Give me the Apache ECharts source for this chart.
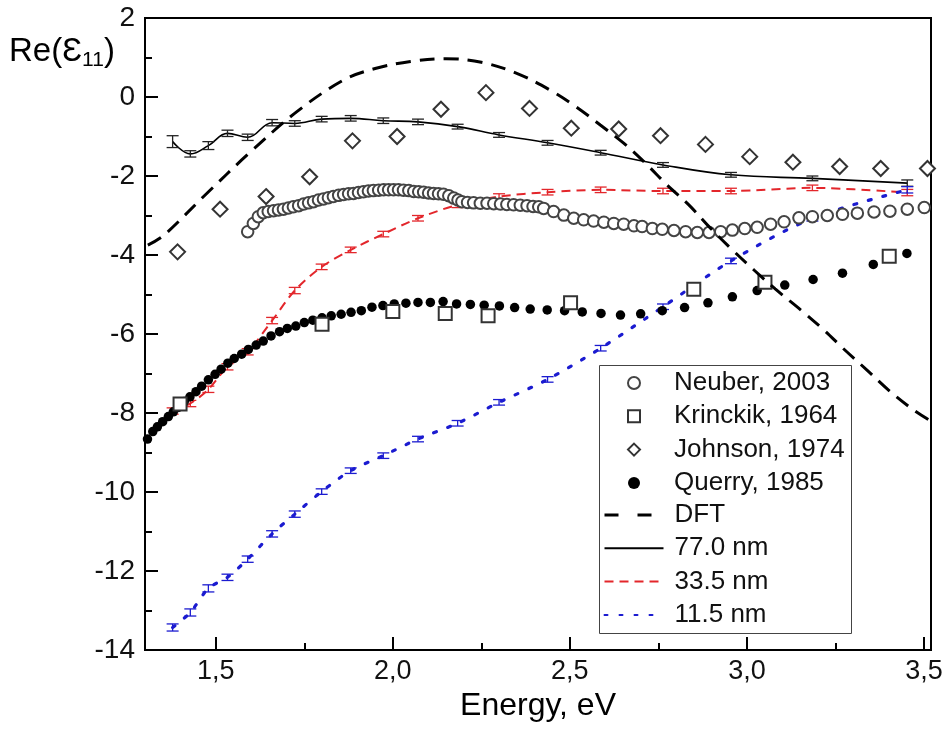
<!DOCTYPE html>
<html>
<head>
<meta charset="utf-8">
<script src="https://cdn.jsdelivr.net/npm/echarts@6/dist/echarts.min.js"></script>
<style>html,body{margin:0;padding:0;background:#fff;}#c{width:951px;height:749px;}</style>
</head>
<body>
<div id="c"></div>
<script>
const FONT = 'Arial, "Liberation Sans", sans-serif';

// Experimental data
const neuber = [[1.590,-3.41],[1.606,-3.20],[1.620,-3.03],[1.634,-2.93],[1.648,-2.90],[1.663,-2.88],[1.677,-2.86],[1.691,-2.84],[1.705,-2.81],[1.719,-2.78],[1.734,-2.75],[1.748,-2.71],[1.762,-2.68],[1.776,-2.65],[1.790,-2.61],[1.804,-2.58],[1.818,-2.55],[1.832,-2.52],[1.847,-2.49],[1.861,-2.47],[1.875,-2.45],[1.889,-2.44],[1.903,-2.42],[1.917,-2.40],[1.931,-2.38],[1.945,-2.37],[1.960,-2.36],[1.974,-2.35],[1.988,-2.35],[2.002,-2.35],[2.016,-2.35],[2.030,-2.36],[2.045,-2.37],[2.059,-2.39],[2.073,-2.40],[2.087,-2.41],[2.101,-2.43],[2.115,-2.44],[2.129,-2.45],[2.143,-2.46],[2.158,-2.50],[2.172,-2.56],[2.184,-2.61],[2.195,-2.65],[2.211,-2.67],[2.228,-2.68],[2.247,-2.69],[2.266,-2.69],[2.285,-2.70],[2.304,-2.71],[2.322,-2.72],[2.341,-2.73],[2.360,-2.74],[2.379,-2.75],[2.396,-2.77],[2.412,-2.78],[2.426,-2.82],[2.454,-2.90],[2.483,-2.99],[2.511,-3.07],[2.539,-3.11],[2.567,-3.14],[2.596,-3.17],[2.624,-3.20],[2.652,-3.22],[2.681,-3.26],[2.704,-3.28],[2.733,-3.33],[2.761,-3.35],[2.794,-3.38],[2.827,-3.41],[2.860,-3.43],[2.893,-3.43],[2.926,-3.41],[2.959,-3.37],[2.994,-3.33],[3.029,-3.30],[3.067,-3.22],[3.105,-3.16],[3.147,-3.06],[3.185,-3.03],[3.227,-3.00],[3.270,-2.97],[3.312,-2.94],[3.359,-2.91],[3.404,-2.89],[3.453,-2.84],[3.501,-2.80]];
const krinckik = [[1.399,-7.77],[1.800,-5.75],[2.000,-5.43],[2.148,-5.48],[2.269,-5.54],[2.502,-5.21],[2.850,-4.87],[3.051,-4.69],[3.402,-4.03]];
const johnson = [[1.392,-3.92],[1.512,-2.84],[1.642,-2.52],[1.765,-2.02],[1.886,-1.11],[2.012,-1.00],[2.136,-0.31],[2.263,0.11],[2.386,-0.29],[2.504,-0.79],[2.638,-0.81],[2.756,-0.98],[2.883,-1.20],[3.008,-1.51],[3.130,-1.65],[3.262,-1.76],[3.378,-1.81],[3.510,-1.81]];
const querry = [[1.307,-8.66],[1.322,-8.47],[1.335,-8.35],[1.350,-8.22],[1.366,-8.09],[1.380,-7.97],[1.394,-7.86],[1.411,-7.71],[1.427,-7.59],[1.444,-7.46],[1.460,-7.32],[1.479,-7.16],[1.498,-7.02],[1.515,-6.89],[1.534,-6.74],[1.552,-6.62],[1.573,-6.51],[1.592,-6.39],[1.614,-6.28],[1.634,-6.18],[1.656,-6.05],[1.680,-5.94],[1.702,-5.86],[1.726,-5.80],[1.750,-5.71],[1.774,-5.65],[1.800,-5.59],[1.826,-5.54],[1.854,-5.50],[1.882,-5.45],[1.911,-5.41],[1.941,-5.32],[1.972,-5.28],[2.004,-5.24],[2.037,-5.22],[2.071,-5.20],[2.106,-5.20],[2.142,-5.18],[2.180,-5.24],[2.219,-5.25],[2.258,-5.27],[2.301,-5.29],[2.344,-5.33],[2.388,-5.37],[2.436,-5.39],[2.485,-5.41],[2.535,-5.44],[2.588,-5.48],[2.643,-5.52],[2.700,-5.49],[2.761,-5.41],[2.824,-5.33],[2.890,-5.21],[2.959,-5.06],[3.029,-4.90],[3.107,-4.76],[3.187,-4.62],[3.270,-4.46],[3.357,-4.24],[3.452,-3.96]];
const dft = [[1.308,-3.75],[1.352,-3.51],[1.470,-2.48],[1.592,-1.44],[1.729,-0.37],[1.861,0.43],[1.950,0.72],[2.050,0.90],[2.150,0.97],[2.250,0.88],[2.350,0.60],[2.443,0.18],[2.518,-0.25],[2.586,-0.71],[2.652,-1.17],[2.714,-1.68],[2.775,-2.23],[2.836,-2.73],[2.897,-3.32],[2.959,-3.87],[3.020,-4.38],[3.080,-4.86],[3.160,-5.45],[3.220,-5.92],[3.270,-6.35],[3.340,-6.92],[3.400,-7.42],[3.470,-7.92],[3.515,-8.18]];

// Model curves (shared energies) with error bars
const energies = [1.378,1.428,1.479,1.533,1.590,1.659,1.723,1.799,1.881,1.973,2.071,2.183,2.300,2.437,2.587,2.763,2.955,3.185,3.453];
const film770 = [-1.13,-1.44,-1.23,-0.92,-1.02,-0.65,-0.67,-0.56,-0.54,-0.60,-0.63,-0.75,-0.96,-1.16,-1.41,-1.72,-1.97,-2.06,-2.18];
const err770  = [0.15,0.08,0.10,0.08,0.08,0.08,0.07,0.07,0.07,0.07,0.07,0.06,0.06,0.06,0.06,0.06,0.06,0.06,0.08];
const film335 = [-7.95,-7.76,-7.40,-6.83,-6.45,-5.66,-4.90,-4.30,-3.87,-3.47,-3.07,-2.73,-2.52,-2.41,-2.35,-2.38,-2.38,-2.30,-2.42];
const err335  = [0.08,0.08,0.08,0.08,0.08,0.08,0.08,0.07,0.07,0.07,0.07,0.07,0.07,0.07,0.07,0.07,0.07,0.07,0.08];
const film115 = [-13.43,-13.05,-12.44,-12.16,-11.70,-11.06,-10.56,-9.99,-9.46,-9.08,-8.66,-8.26,-7.73,-7.15,-6.36,-5.31,-4.15,-3.07,-2.35];
const err115  = [0.09,0.09,0.09,0.08,0.08,0.08,0.08,0.07,0.07,0.07,0.07,0.07,0.07,0.07,0.07,0.07,0.07,0.07,0.08];

const xMajor = [1.5, 2.0, 2.5, 3.0, 3.5];
const xMinor = [1.75, 2.25, 2.75, 3.25];

const RED = '#e3262b';
const BLUE = '#1b1bd0';
const GRID_TOP = 18, GRID_BOTTOM = 99, H = 749;

function pairs(ys) { return energies.map((x, i) => [x, ys[i]]); }

function errSeries(name, ys, es, color) {
  return {
    type: 'custom', name: name, silent: true, z: 4,
    data: energies.map((x, i) => [x, ys[i], es[i]]),
    encode: { x: 0, y: 1 },
    renderItem: function (params, api) {
      const x = api.value(0), y = api.value(1), e = api.value(2);
      const t = api.coord([x, y + e]);
      const b = api.coord([x, y - e]);
      const hw = 6;
      const st = { stroke: color, lineWidth: 1.3, fill: null };
      return { type: 'group', children: [
        { type: 'line', shape: { x1: t[0], y1: t[1], x2: b[0], y2: b[1] }, style: st },
        { type: 'line', shape: { x1: t[0] - hw, y1: t[1], x2: t[0] + hw, y2: t[1] }, style: st },
        { type: 'line', shape: { x1: b[0] - hw, y1: b[1], x2: b[0] + hw, y2: b[1] }, style: st }
      ]};
    }
  };
}

const chart = echarts.init(document.getElementById('c'), null, { renderer: 'canvas' });
const axisLineStyle = { color: '#000', width: 2 };
const hideDot = { opacity: 0 };
const legendText = { fontSize: 26, color: '#111', fontFamily: FONT, lineHeight: 26 };

chart.setOption({
  animation: false,
  backgroundColor: '#fff',
  textStyle: { fontFamily: FONT },
  title: {
    left: 4, top: 28,
    text: '{a|Re(}{e|Ɛ}{s|11}{a|)}',
    textStyle: {
      fontWeight: 'normal',
      rich: {
        a: { fontSize: 33, fontFamily: FONT, fontWeight: 'normal', color: '#000', lineHeight: 38 },
        e: { fontSize: 33, fontFamily: FONT, fontWeight: 'normal', color: '#000', lineHeight: 38 },
        s: { fontSize: 21, fontFamily: FONT, fontWeight: 'normal', color: '#000', lineHeight: 26, verticalAlign: 'bottom' }
      }
    }
  },
  graphic: [{
    type: 'rect', left: 599, top: 365, z: 90, silent: true,
    shape: { width: 252, height: 268 },
    style: { fill: '#fff', stroke: '#444', lineWidth: 1 }
  }],
  grid: { left: 145, right: 20, top: GRID_TOP, bottom: GRID_BOTTOM, show: true, borderColor: '#000', borderWidth: 2, backgroundColor: 'transparent' },
  xAxis: [{
    type: 'value', min: 1.3, max: 3.52, position: 'bottom',
    name: 'Energy, eV', nameLocation: 'middle', nameGap: 27,
    nameTextStyle: { fontSize: 32, color: '#000', fontFamily: FONT, verticalAlign: 'top' },
    axisLine: { show: true, onZero: false, lineStyle: axisLineStyle },
    axisTick: { show: true, inside: true, length: 13, customValues: xMajor, lineStyle: { color: '#000', width: 2 } },
    axisLabel: { show: true, customValues: xMajor, margin: 8, fontSize: 27, color: '#111', fontFamily: FONT,
      formatter: v => v.toFixed(1).replace('.', ',') },
    splitLine: { show: false }
  }, {
    // minor ticks on the bottom edge (top-positioned axis shifted down to the bottom edge)
    type: 'value', min: 1.3, max: 3.52, position: 'top', gridIndex: 0,
    offset: -(H - GRID_TOP - GRID_BOTTOM),
    axisLine: { show: false },
    axisTick: { show: true, inside: false, length: 7, customValues: xMinor, lineStyle: { color: '#000', width: 2 } },
    axisLabel: { show: false },
    splitLine: { show: false }
  }],
  yAxis: {
    type: 'value', min: -14, max: 2, interval: 2,
    axisLine: { show: true, onZero: false, lineStyle: axisLineStyle },
    axisTick: { show: true, inside: true, length: 13, lineStyle: { color: '#000', width: 2 } },
    minorTick: { show: true, splitNumber: 2, length: 7, lineStyle: { color: '#000', width: 2 } },
    axisLabel: { margin: 10, fontSize: 28, color: '#111', fontFamily: FONT },
    splitLine: { show: false }
  },
  legend: [{
    // symbol entries
    orient: 'vertical', left: 627, top: 370, padding: 0, z: 100,
    itemWidth: 12, itemHeight: 12, itemGap: 7.3,
    textStyle: Object.assign({ padding: [0, 0, 0, 29] }, legendText),
    selectedMode: false,
    data: ['Neuber, 2003', 'Krinckik, 1964', 'Johnson, 1974', 'Querry, 1985']
  }, {
    // line entries
    orient: 'vertical', left: 603, top: 502, padding: 0, z: 100,
    itemWidth: 59, itemHeight: 12, itemGap: 7.3,
    textStyle: Object.assign({ padding: [0, 0, 0, 6] }, legendText),
    selectedMode: false,
    data: [
      { name: 'DFT', lineStyle: { type: [14, 19], width: 3, color: '#000' }, itemStyle: hideDot },
      { name: '77.0 nm', itemStyle: hideDot },
      { name: '33.5 nm', itemStyle: hideDot },
      { name: '11.5 nm', itemStyle: hideDot }
    ]
  }],
  series: [
    { name: '33.5 nm', type: 'line', data: pairs(film335), smooth: 0.3, symbol: 'none', z: 3,
      lineStyle: { color: RED, width: 2, type: [9, 6] }, itemStyle: { color: RED } },
    { name: '11.5 nm', type: 'line', data: pairs(film115), smooth: 0.3, symbol: 'none', z: 3,
      lineStyle: { color: BLUE, width: 3.2, type: [3, 12], cap: 'round' }, itemStyle: { color: BLUE } },
    { name: '77.0 nm', type: 'line', data: pairs(film770), smooth: 0.4, symbol: 'none', z: 3,
      lineStyle: { color: '#000', width: 1.6 }, itemStyle: { color: '#000' } },
    errSeries('err770', film770, err770, '#222'),
    errSeries('err335', film335, err335, RED),
    errSeries('err115', film115, err115, BLUE),
    { name: 'Neuber, 2003', type: 'scatter', data: neuber, symbol: 'emptyCircle', symbolSize: 11.5, z: 5,
      itemStyle: { color: '#444', borderColor: '#444', borderWidth: 1, opacity: 1 } },
    { name: 'Querry, 1985', type: 'scatter', data: querry, symbol: 'circle', symbolSize: 9.5, z: 5,
      itemStyle: { color: '#000', opacity: 1 } },
    { name: 'Krinckik, 1964', type: 'scatter', data: krinckik, symbol: 'emptyRect', symbolSize: 13, z: 6,
      itemStyle: { color: '#333', borderColor: '#333', borderWidth: 1.2, opacity: 1 } },
    { name: 'Johnson, 1974', type: 'scatter', data: johnson, symbol: 'emptyDiamond', symbolSize: [15, 15], z: 6,
      itemStyle: { color: '#333', borderColor: '#333', borderWidth: 1.2, opacity: 1 } },
    { name: 'DFT', type: 'line', data: dft, smooth: 0.35, symbol: 'none', z: 7,
      lineStyle: { color: '#000', width: 3, type: [15, 9] }, itemStyle: { color: '#000' } }
  ]
});
</script>
</body>
</html>
